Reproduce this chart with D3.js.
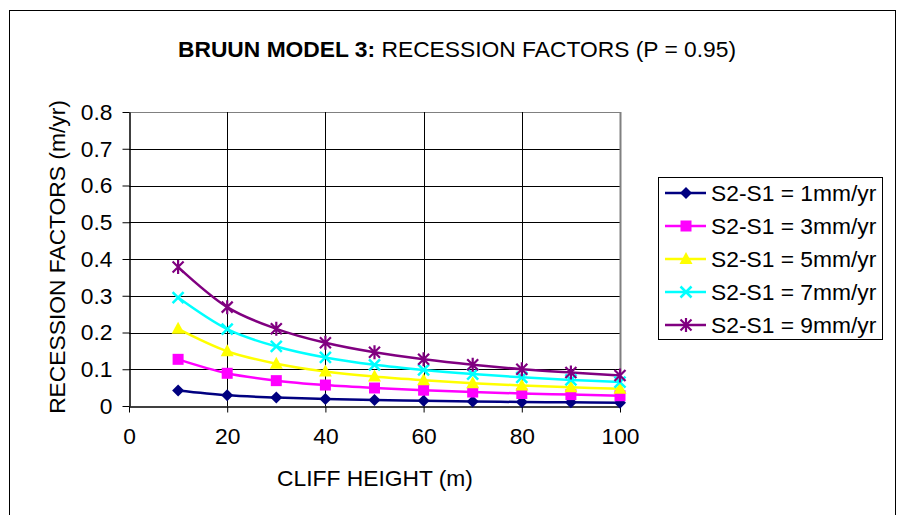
<!DOCTYPE html>
<html>
<head>
<meta charset="utf-8">
<script src="https://cdn.jsdelivr.net/npm/d3@7"></script>
<style>
  body { margin: 0; background: #fff; }
  svg { font-family: Arial, "Liberation Sans", sans-serif; }
</style>
</head>
<body>
<div id="chart"></div>
<script>
var cliffHeights = [10, 20, 30, 40, 50, 60, 70, 80, 90, 100];
var seriesNames = ["S2-S1 = 1mm/yr", "S2-S1 = 3mm/yr", "S2-S1 = 5mm/yr", "S2-S1 = 7mm/yr", "S2-S1 = 9mm/yr"];
var rate1 = [0.042, 0.029, 0.023, 0.019, 0.016, 0.014, 0.012, 0.011, 0.010, 0.009];
var rate3 = [0.127, 0.089, 0.069, 0.057, 0.049, 0.043, 0.038, 0.034, 0.031, 0.028];
var rate5 = [0.210, 0.149, 0.115, 0.094, 0.080, 0.070, 0.062, 0.056, 0.051, 0.047];
var rate7 = [0.295, 0.209, 0.162, 0.132, 0.112, 0.098, 0.087, 0.078, 0.071, 0.065];
var rate9 = [0.378, 0.269, 0.210, 0.172, 0.146, 0.127, 0.112, 0.100, 0.091, 0.083];
var xTicks = [0, 20, 40, 60, 80, 100];
var yTicks = [0, 0.1, 0.2, 0.3, 0.4, 0.5, 0.6, 0.7, 0.8];

var allSeries = [rate1, rate3, rate5, rate7, rate9];
var colors = ["#000080", "#ff00ff", "#ffff00", "#00ffff", "#800080"];
var shapes = ["diamond", "square", "triangle", "cross", "star"];

var width = 902, height = 515;
var plotLeft = 129, plotRight = 620, plotTop = 112, plotBottom = 406;
var fontSize = 22.8;

var svg = d3.select("#chart").append("svg")
  .attr("width", width)
  .attr("height", height);

// outer chart frame
svg.append("rect")
  .attr("x", 9.5).attr("y", 10.5)
  .attr("width", 886).attr("height", 520)
  .attr("fill", "#fff").attr("stroke", "#000");

var x = d3.scaleLinear().domain([0, 100]).range([plotLeft, plotRight]);
var y = d3.scaleLinear().domain([0, 0.8]).range([plotBottom, plotTop]);

// grid
svg.append("g").selectAll("line")
  .data(yTicks.slice(1))
  .enter().append("line")
  .attr("x1", plotLeft).attr("x2", plotRight)
  .attr("y1", function(d) { return Math.round(y(d)) + 0.5; })
  .attr("y2", function(d) { return Math.round(y(d)) + 0.5; })
  .attr("stroke", function(d) { return d === 0.8 ? "#808080" : "#000"; })
  .attr("stroke-width", 1);

svg.append("g").selectAll("line")
  .data(xTicks.slice(1))
  .enter().append("line")
  .attr("y1", plotTop).attr("y2", plotBottom)
  .attr("x1", function(d) { return Math.round(x(d)) + 0.5; })
  .attr("x2", function(d) { return Math.round(x(d)) + 0.5; })
  .attr("stroke", function(d) { return d === 100 ? "#808080" : "#000"; })
  .attr("stroke-width", function(d) { return d === 100 ? 2 : 1; });

// axes
var xAxis = d3.axisBottom(x).tickValues(xTicks).tickSize(6).tickSizeOuter(0).tickPadding(15);
var yAxis = d3.axisLeft(y).tickValues(yTicks).tickSize(7).tickSizeOuter(0).tickPadding(10)
  .tickFormat(function(d) { return d === 0 ? "0" : d3.format(".1f")(d); });

var gx = svg.append("g")
  .attr("transform", "translate(0," + (Math.round(plotBottom) + 0.5) + ")")
  .call(xAxis);
var gy = svg.append("g")
  .attr("transform", "translate(" + (plotLeft + 0.5) + ",0)")
  .call(yAxis);

[gx, gy].forEach(function(g) {
  g.select(".domain").attr("stroke", "#000").attr("stroke-width", 1.5);
  g.selectAll(".tick line").attr("stroke", "#000");
  g.selectAll("text")
    .attr("font-family", "Arial, 'Liberation Sans', sans-serif")
    .attr("font-size", fontSize)
    .attr("fill", "#000");
});

// series lines
var line = d3.line()
  .x(function(d, i) { return x(cliffHeights[i]); })
  .y(function(d) { return y(d); })
  .curve(d3.curveCardinal.tension(0));

svg.append("g").selectAll("path")
  .data(allSeries)
  .enter().append("path")
  .attr("d", line)
  .attr("fill", "none")
  .attr("stroke", function(d, i) { return colors[i]; })
  .attr("stroke-width", 2.5);

function drawMarker(g, shape, color) {
  if (shape === "diamond") {
    g.append("path").attr("d", "M0,-6L6,0L0,6L-6,0Z").attr("fill", color);
  } else if (shape === "square") {
    g.append("rect").attr("x", -5.5).attr("y", -5.5).attr("width", 11).attr("height", 11).attr("fill", color);
  } else if (shape === "triangle") {
    g.append("path").attr("d", "M0,-7L6.5,5L-6.5,5Z").attr("fill", color);
  } else if (shape === "cross") {
    g.append("path").attr("d", "M-5.5,-5.5L5.5,5.5M-5.5,5.5L5.5,-5.5")
      .attr("stroke", color).attr("stroke-width", 2.5).attr("fill", "none");
  } else {
    g.append("path").attr("d", "M-5.5,-5.5L5.5,5.5M-5.5,5.5L5.5,-5.5M0,-7L0,7")
      .attr("stroke", color).attr("stroke-width", 2.2).attr("fill", "none");
  }
}

allSeries.forEach(function(s, k) {
  svg.append("g").selectAll("g")
    .data(s)
    .enter().append("g")
    .attr("transform", function(d, i) { return "translate(" + x(cliffHeights[i]) + "," + y(d) + ")"; })
    .each(function() { drawMarker(d3.select(this), shapes[k], colors[k]); });
});

// title
var title = svg.append("text")
  .attr("x", 457).attr("y", 57)
  .attr("text-anchor", "middle")
  .attr("font-size", fontSize);
title.append("tspan").attr("font-weight", "bold").text("BRUUN MODEL 3:");
title.append("tspan").text(" RECESSION FACTORS (P = 0.95)");

// axis titles
svg.append("text")
  .attr("x", 375).attr("y", 486)
  .attr("text-anchor", "middle")
  .attr("font-size", fontSize)
  .text("CLIFF HEIGHT (m)");

svg.append("text")
  .attr("transform", "translate(65,257) rotate(-90)")
  .attr("text-anchor", "middle")
  .attr("font-size", fontSize)
  .text("RECESSION FACTORS (m/yr)");

// legend
var legend = svg.append("g");
legend.append("rect")
  .attr("x", 658.5).attr("y", 177.5)
  .attr("width", 224).attr("height", 162)
  .attr("fill", "#fff").attr("stroke", "#000");

var items = legend.selectAll(".legend")
  .data(seriesNames)
  .enter().append("g")
  .attr("class", "legend")
  .attr("transform", function(d, i) { return "translate(0," + (193 + i * 33) + ")"; });

items.append("line")
  .attr("x1", 665).attr("x2", 706)
  .attr("stroke", function(d, i) { return colors[i]; })
  .attr("stroke-width", 2.5);
items.each(function(d, i) {
  var g = d3.select(this).append("g").attr("transform", "translate(686,0)");
  drawMarker(g, shapes[i], colors[i]);
});
items.append("text")
  .attr("x", 711).attr("y", 8)
  .attr("font-size", fontSize)
  .text(function(d) { return d; });
</script>
</body>
</html>
